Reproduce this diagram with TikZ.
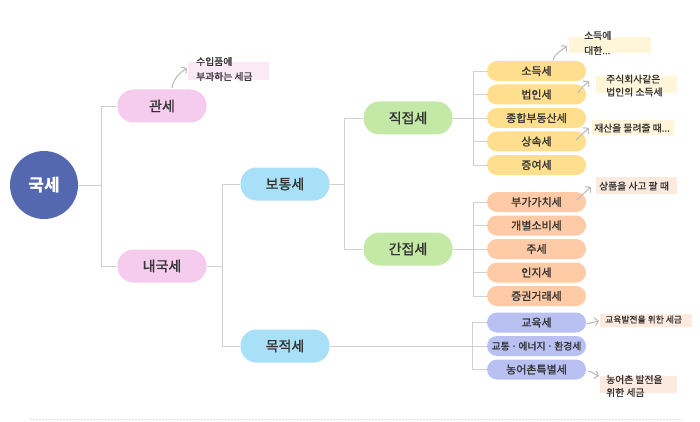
\documentclass[tikz,border=0pt]{standalone}
\usepackage{fontspec}
\setmainfont{Noto Sans CJK KR}
\newfontfamily\medfont{Noto Sans CJK KR}[FakeBold=1.2]
\newfontfamily\notefont{Noto Sans CJK KR}[FakeBold=0.8]
\usetikzlibrary{arrows.meta}
\definecolor{gukblue}{HTML}{5468B0}
\definecolor{pinkc}{HTML}{F6CCEE}
\definecolor{bluec}{HTML}{A8E0F8}
\definecolor{greenc}{HTML}{C4E9A6}
\definecolor{yellowc}{HTML}{FFDF8E}
\definecolor{orangec}{HTML}{FFCBA6}
\definecolor{purplec}{HTML}{B9C1F2}
\definecolor{txt}{HTML}{333333}
\definecolor{linegray}{HTML}{D0D0D0}
\definecolor{arrowgray}{HTML}{BDBDBD}
\definecolor{hlpink}{HTML}{FBE9F8}
\definecolor{hlyellow}{HTML}{FFF6DA}
\definecolor{hlpeach}{HTML}{FDEADF}
\begin{document}
\begin{tikzpicture}[x=1pt,y=-1pt,
  bigpill/.style={rectangle, rounded corners=16pt, minimum width=89pt, minimum height=33pt, inner sep=0pt, fill=#1, text=txt, font=\medfont\fontsize{14}{14}\selectfont},
  smallpill/.style={rectangle, rounded corners=10pt, minimum width=99pt, minimum height=20pt, inner sep=0pt, fill=#1, text=txt, font=\medfont\fontsize{11}{11}\selectfont},
  link/.style={draw=linegray, line width=0.9pt},
  notearrow/.style={draw=arrowgray, line width=1.1pt, -{Straight Barb[length=3.5pt,width=8pt]}},
  notetext/.style={anchor=west, align=left, inner sep=0pt, text=txt, font=\notefont\fontsize{9.8}{#1}\selectfont},
  notetext/.default=15
]
\useasboundingbox (0,0) rectangle (700,422);
\fill[white] (0,0) rectangle (700,422);

% highlight rectangles
\fill[hlpink] (188,62) rectangle (269,80);
\fill[hlyellow] (569,37) rectangle (651,53);
\fill[hlyellow] (596,76) rectangle (677,93);
\fill[hlyellow] (592,120) rectangle (674,135);
\fill[hlpeach] (596,177) rectangle (677,194);
\fill[hlpeach] (600,314) rectangle (692,327);
\fill[hlpeach] (600,376) rectangle (677,393);

% main nodes
\node[circle, fill=gukblue, minimum size=68pt, inner sep=0pt, text=white, font=\fontsize{17}{17}\selectfont\bfseries] (guk) at (44,185) {국세};
\node[bigpill=pinkc] (gwan) at (162,106) {관세};
\node[bigpill=pinkc] (naeguk) at (162,266) {내국세};
\node[bigpill=bluec] (botong) at (285,184) {보통세};
\node[bigpill=bluec] (mokjeok) at (285,346) {목적세};
\node[bigpill=greenc] (jikjeop) at (408,118) {직접세};
\node[bigpill=greenc] (ganjeop) at (408,249) {간접세};

\node[smallpill=yellowc] (y1) at (536.5,71) {소득세};
\node[smallpill=yellowc] (y2) at (536.5,94.5) {법인세};
\node[smallpill=yellowc] (y3) at (536.5,118) {종합부동산세};
\node[smallpill=yellowc] (y4) at (536.5,141.5) {상속세};
\node[smallpill=yellowc] (y5) at (536.5,165) {증여세};

\node[smallpill=orangec] (o1) at (536.5,202) {부가가치세};
\node[smallpill=orangec] (o2) at (536.5,225.5) {개별소비세};
\node[smallpill=orangec] (o3) at (536.5,249) {주세};
\node[smallpill=orangec] (o4) at (536.5,272.5) {인지세};
\node[smallpill=orangec] (o5) at (536.5,296) {증권거래세};

\node[smallpill=purplec] (p1) at (536.5,322.5) {교육세};
\node[smallpill=purplec, font=\medfont\fontsize{9.8}{9.8}\selectfont] (p2) at (536.5,346) {교통\,·\,에너지\,·\,환경세};
\node[smallpill=purplec] (p3) at (536.5,369.5) {농어촌특별세};

% connectors
\coordinate (t1) at (101,185);
\draw[link] (guk.east) -- (t1);
\draw[link] (t1) |- (gwan.west);
\draw[link] (t1) |- (naeguk.west);

\coordinate (t2) at (222,266);
\draw[link] (naeguk.east) -- (t2);
\draw[link] (t2) |- (botong.west);
\draw[link] (t2) |- (mokjeok.west);

\coordinate (t3) at (344,184);
\draw[link] (botong.east) -- (t3);
\draw[link] (t3) |- (jikjeop.west);
\draw[link] (t3) |- (ganjeop.west);

\coordinate (t4) at (473,118);
\draw[link] (jikjeop.east) -- (y3.west);
\foreach \n in {y1,y2,y4,y5} \draw[link] (t4) |- (\n.west);

\coordinate (t5) at (473,249);
\draw[link] (ganjeop.east) -- (o3.west);
\foreach \n in {o1,o2,o4,o5} \draw[link] (t5) |- (\n.west);

\coordinate (t6) at (472,346);
\draw[link] (mokjeok.east) -- (p2.west);
\foreach \n in {p1,p3} \draw[link] (t6) |- (\n.west);

% note texts
\node[notetext] (n1) at (196,69) {수입품에\\부과하는 세금};
\node[notetext] (n2) at (584,43) {소득에\\대한...};
\node[notetext=13] (n3) at (606,85.5) {주식회사같은\\법인의 소득세};
\node[notetext] (n4) at (594,128) {재산을 물려줄 때...};
\node[notetext] (n5) at (599,186) {상품을 사고 팔 때};
\node[notetext, font=\notefont\fontsize{8.8}{13}\selectfont] (n6) at (605,319.5) {교육발전을 위한 세금};
\node[notetext=13] (n7) at (606,386) {농어촌 발전을\\위한 세금};

% note arrows
\coordinate (a1s) at (172,88); \coordinate (a1e) at (187,68);
\draw[notearrow] (a1s) to[out=80,in=215] (a1e);
\coordinate (a2s) at (553,60); \coordinate (a2e) at (567,46);
\draw[notearrow] (a2s) to[out=70,in=220] (a2e);
\coordinate (a3s) at (578,93); \coordinate (a3e) at (589,81);
\draw[notearrow] (a3s) to[out=60,in=225] (a3e);
\coordinate (a4s) at (576,140); \coordinate (a4e) at (589,128);
\draw[notearrow] (a4s) to[out=45,in=220] (a4e);
\coordinate (a5s) at (577,200); \coordinate (a5e) at (591,187);
\draw[notearrow] (a5s) to[out=45,in=220] (a5e);
\coordinate (a6s) at (587,324); \coordinate (a6e) at (599,321);
\draw[notearrow] (a6s) to[out=15,in=190] (a6e);
\coordinate (a7s) at (588,371); \coordinate (a7e) at (599,376);
\draw[notearrow] (a7s) to[out=-10,in=160] (a7e);

% bottom rule
\draw[draw=linegray!70, line width=0.7pt, dash pattern=on 2pt off 1pt] (30,419) -- (682,419);
\end{tikzpicture}
\end{document}
